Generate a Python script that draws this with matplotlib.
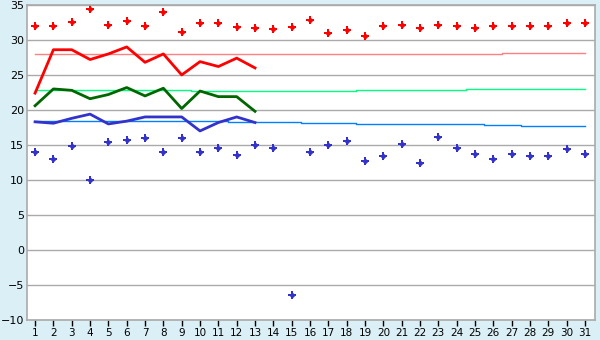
import matplotlib
matplotlib.use("Agg")
import matplotlib.pyplot as plt
import numpy as np

# days of the month
days = np.arange(1, 32)
days_now = np.arange(1, 14)

# record max / record min (dots)
rec_max = [32.0, 32.0, 32.5, 34.4, 32.2, 32.7, 32.0, 34.0, 31.2, 32.4,
           32.4, 31.8, 31.7, 31.5, 31.8, 32.8, 31.0, 31.4, 30.5, 32.0,
           32.2, 31.7, 32.2, 32.0, 31.7, 32.0, 32.0, 32.0, 32.0, 32.4, 32.4]
rec_min = [14.0, 13.0, 14.8, 10.0, 15.4, 15.7, 16.0, 14.0, 16.0, 14.0,
           14.5, 13.5, 15.0, 14.5, -6.5, 14.0, 15.0, 15.5, 12.7, 13.4,
           15.2, 12.4, 16.1, 14.5, 13.7, 13.0, 13.7, 13.4, 13.4, 14.4, 13.7]

# normals (per day)
norm_max = [28.0] * 26 + [28.15] * 5
norm_mean = [22.8] * 9 + [22.7] * 9 + [22.8] * 6 + [22.95] * 7
norm_min = [18.4] * 11 + [18.25] * 4 + [18.1] * 3 + [17.95] * 7 + [17.8] * 2 + [17.65] * 4

# this month
t_max = [22.4, 28.6, 28.6, 27.2, 28.0, 29.0, 26.8, 28.0, 25.0, 26.9, 26.2, 27.4, 26.0]
t_mean = [20.6, 23.0, 22.8, 21.6, 22.2, 23.2, 22.0, 23.1, 20.2, 22.7, 21.9, 21.9, 19.8]
t_min = [18.3, 18.1, 18.8, 19.4, 18.0, 18.4, 19.0, 19.0, 19.0, 17.0, 18.2, 19.0, 18.2]

bg = '#daeff6'
fig = plt.figure(figsize=(6, 3.4), dpi=100, facecolor=bg)
ax = fig.add_axes([0.045, 0.059, 0.9467, 0.9265])
ax.set_facecolor('white')

ax.step(days, norm_max, where='mid', color='#ff8080', lw=1)
ax.step(days, norm_mean, where='mid', color='#00ff80', lw=1)
ax.step(days, norm_min, where='mid', color='#0080ff', lw=1)

ax.plot(days_now, t_max, color='#ff0000', lw=2)
ax.plot(days_now, t_mean, color='#006600', lw=2)
ax.plot(days_now, t_min, color='#3333cc', lw=2)

# record dots: small diamond with a plus on top
for vals, col in [(rec_max, '#ff0000'), (rec_min, '#3333cc')]:
    ax.plot(days, vals, 'P', color=col, ms=5.5, mew=0)
    ax.plot(days, vals, 'D', color=col, ms=3.2, mew=0)

ax.set_xlim(0.56, 31.55)
ax.set_ylim(-10, 35)
ax.set_yticks(np.arange(-10, 36, 5))
ax.set_xticks(days)
ax.yaxis.grid(True, color='#aaaaaa', lw=1)
ax.set_axisbelow(True)
for s in ax.spines.values():
    s.set_color('#aaaaaa')
    s.set_linewidth(1.2)
ax.tick_params(axis='y', length=0, labelsize=8, pad=2)
ax.tick_params(axis='x', length=4, width=1, color='black', labelsize=7.5, pad=2)

fig.savefig('out.png', dpi=100, facecolor=bg)
